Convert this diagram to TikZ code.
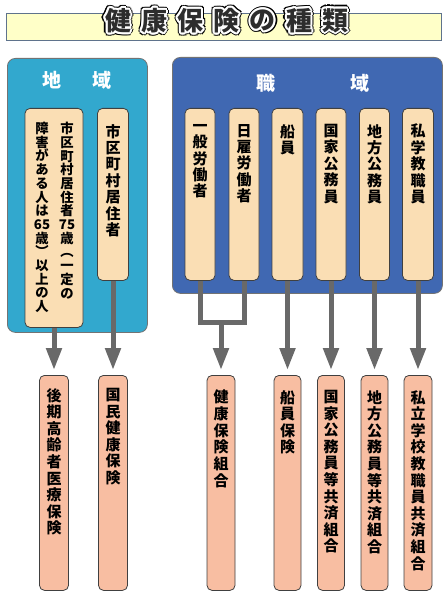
\documentclass[tikz,border=0pt]{standalone}
\usepackage{fontspec}
\setmainfont{Noto Sans CJK JP}
\usetikzlibrary{arrows.meta}
\definecolor{titlebg}{RGB}{255,255,200}
\definecolor{titleborder}{RGB}{95,115,140}
\definecolor{regionbg}{RGB}{50,168,206}
\definecolor{jobbg}{RGB}{64,104,178}
\definecolor{srcbg}{RGB}{250,222,180}
\definecolor{dstbg}{RGB}{248,190,162}
\definecolor{arrowgray}{RGB}{105,105,105}
\definecolor{titleink}{RGB}{45,45,45}
\begin{document}
\begin{tikzpicture}[x=1pt,y=-1pt,
  outerbox/.style={draw=black!55, line width=0.8pt, rounded corners=8pt, inner sep=0pt, anchor=north west},
  srcbox/.style={draw=black!75, line width=0.8pt, fill=srcbg, rounded corners=5pt, inner sep=0pt, anchor=north, minimum width=30pt, minimum height=172pt},
  dstbox/.style={draw=black!75, line width=0.8pt, fill=dstbg, rounded corners=5pt, inner sep=0pt, anchor=north, minimum width=28pt, minimum height=215pt},
  vtext/.style={anchor=north, inner sep=0pt, align=center, text=black, font=\bfseries\fontsize{15}{16.4}\selectfont},
  dtext/.style={anchor=north, inner sep=0pt, align=center, text=black, font=\bfseries\fontsize{15}{16.6}\selectfont},
  smalltext/.style={anchor=north, inner sep=0pt, align=center, text=black, font=\bfseries\fontsize{13.3}{13.7}\selectfont},
  headtext/.style={text=white, inner sep=0pt, font=\bfseries\fontsize{19}{20}\selectfont},
  titlech/.style={inner sep=0pt, font=\bfseries\fontsize{26}{27}\selectfont},
  conn/.style={draw=arrowgray, line width=5pt},
  arr/.style={conn, -{Triangle[width=15pt,length=22pt]}, shorten >=5pt}
]
\useasboundingbox (0,0) rectangle (446,601);

% title bar
\node[draw=titleborder, line width=1.2pt, fill=titlebg, inner sep=0pt, minimum width=435pt, minimum height=27pt, anchor=north west] (bar) at (6,13) {};
\foreach \c [count=\i] in {健,康,保,険,の,種,類} {
  \pgfmathsetmacro\xx{118+(\i-1)*36.2}
  \foreach \a [count=\k] in {0,30,...,330}
    \node[titlech, text=black] (tb\i-\k) at ([shift={(\a:3.2pt)}] \xx,20.5) {\c};
  \foreach \a [count=\k] in {0,30,...,330}
    \node[titlech, text=white] (tw\i-\k) at ([shift={(\a:2pt)}] \xx,20.5) {\c};
  \node[titlech, text=titleink] (t\i) at (\xx,20.5) {\c};
}

% outer boxes
\node[outerbox, fill=regionbg, minimum width=140pt, minimum height=274pt] (region) at (7,58) {};
\node[outerbox, fill=jobbg, minimum width=270pt, minimum height=236pt] (job) at (172,57) {};
\node[headtext] (rh1) at (52,80) {地};
\node[headtext] (rh2) at (102,80) {域};
\node[headtext] (jh1) at (266,83) {職};
\node[headtext] (jh2) at (360,83) {域};

\coordinate (j) at (221,322);

% source boxes
\node[srcbox, minimum width=58pt, minimum height=219pt] (l1) at (54,108) {};
\node[srcbox, minimum width=31pt] (l2) at (113,108) {};
\node[srcbox] (r1) at (200,108) {};
\node[srcbox] (r2) at (244,108) {};
\node[srcbox, minimum width=31pt] (r3) at (287.5,108) {};
\node[srcbox] (r4) at (331,108) {};
\node[srcbox] (r5) at (374.5,108) {};
\node[srcbox, minimum width=31pt] (r6) at (418,108) {};

\node[smalltext] (l1a) at (67,122) {市\\区\\町\\村\\居\\住\\者\\75\\歳\\︵\\一\\定\\の};
\node[smalltext] (l1b) at (42,122) {障\\害\\が\\あ\\る\\人\\は\\65\\歳\\︶\\以\\上\\の\\人};
\node[vtext] (l2t) at (113,124) {市\\区\\町\\村\\居\\住\\者};
\node[vtext] (r1t) at (200,124) {一\\般\\労\\働\\者};
\node[vtext] (r2t) at (244,124) {日\\雇\\労\\働\\者};
\node[vtext] (r3t) at (287.5,124) {船\\員};
\node[vtext] (r4t) at (331,124) {国\\家\\公\\務\\員};
\node[vtext] (r5t) at (374.5,124) {地\\方\\公\\務\\員};
\node[vtext] (r6t) at (418,124) {私\\学\\教\\職\\員};

% destination boxes
\node[dstbox, minimum width=29pt] (b1) at (54,375) {};
\node[dstbox, minimum width=29pt] (b2) at (113,375) {};
\node[dstbox] (b3) at (221,375) {};
\node[dstbox, minimum width=27pt] (b4) at (287.5,375) {};
\node[dstbox, minimum width=27pt] (b5) at (331,375) {};
\node[dstbox, minimum width=27pt] (b6) at (374.5,375) {};
\node[dstbox] (b7) at (418,375) {};

\node[dtext] (b1t) at (54,388) {後\\期\\高\\齢\\者\\医\\療\\保\\険};
\node[dtext] (b2t) at (113,388) {国\\民\\健\\康\\保\\険};
\node[dtext] (b3t) at (221,390) {健\\康\\保\\険\\組\\合};
\node[dtext] (b4t) at (287.5,390) {船\\員\\保\\険};
\node[dtext] (b5t) at (331,390) {国\\家\\公\\務\\員\\等\\共\\済\\組\\合};
\node[dtext] (b6t) at (374.5,390) {地\\方\\公\\務\\員\\等\\共\\済\\組\\合};
\node[dtext] (b7t) at (418,390) {私\\立\\学\\校\\教\\職\\員\\共\\済\\組\\合};

% connectors
\draw[arr] (l1.south) -- (b1.north);
\draw[arr] (l2.south) -- (b2.north);
\draw[conn, line join=miter] (r1.south) |- (j) -| (r2.south);
\draw[arr] (j) -- (b3.north);
\draw[arr] (r3.south) -- (b4.north);
\draw[arr] (r4.south) -- (b5.north);
\draw[arr] (r5.south) -- (b6.north);
\draw[arr] (r6.south) -- (b7.north);
\end{tikzpicture}
\end{document}
